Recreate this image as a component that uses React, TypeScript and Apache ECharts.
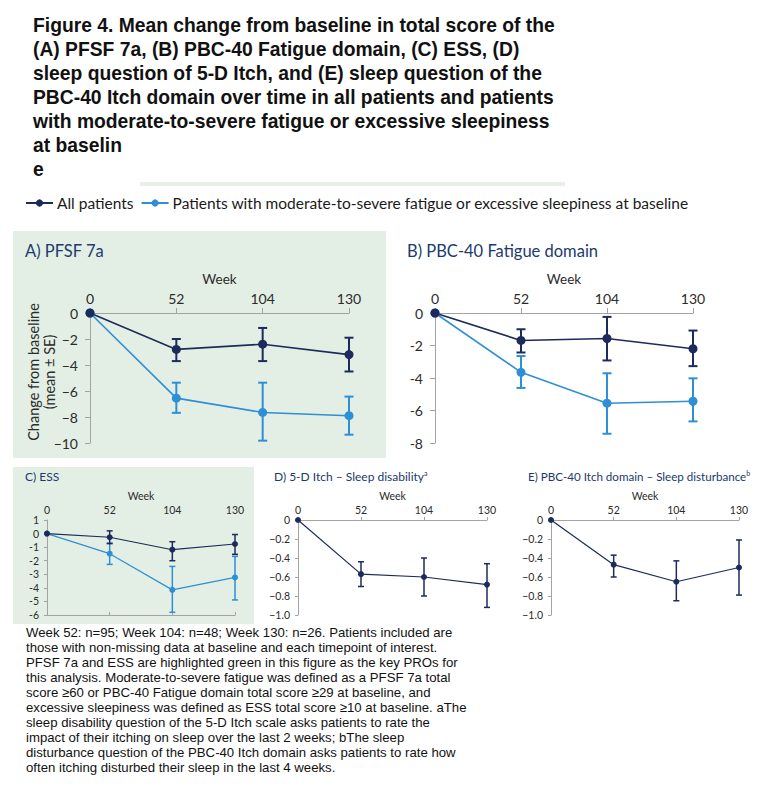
import React, { useEffect, useRef } from 'react';
import * as echarts from 'echarts';

// ---------- data ----------
const weeks = ['0', '52', '104', '130'];
const legendAll = 'All patients';
const legendFat = 'Patients with moderate-to-severe fatigue or excessive sleepiness at baseline';

// A) PFSF 7a
const pfsfAll = [0, -2.8, -2.4, -3.2];
const pfsfAllLo = [null, -3.7, -3.7, -4.5];
const pfsfAllHi = [null, -2.0, -1.15, -1.9];
const pfsfFat = [0, -6.55, -7.65, -7.9];
const pfsfFatLo = [null, -7.68, -9.82, -9.36];
const pfsfFatHi = [null, -5.36, -5.36, -6.43];

// B) PBC-40 Fatigue domain
const pbcAll = [0, -1.69, -1.57, -2.2];
const pbcAllLo = [null, -2.43, -2.92, -3.27];
const pbcAllHi = [null, -1.0, -0.24, -1.08];
const pbcFat = [0, -3.65, -5.55, -5.43];
const pbcFatLo = [null, -4.61, -7.43, -6.67];
const pbcFatHi = [null, -2.65, -3.71, -4.02];

// C) ESS
const essAll = [0, -0.27, -1.19, -0.77];
const essAllLo = [null, -0.74, -2.0, -1.53];
const essAllHi = [null, 0.2, -0.6, -0.07];
const essFat = [0, -1.48, -4.15, -3.23];
const essFatLo = [null, -2.27, -5.8, -4.89];
const essFatHi = [null, -0.7, -2.42, -1.68];

// D) 5-D Itch – Sleep disability
const itchAll = [0, -0.57, -0.6, -0.68];
const itchAllLo = [null, -0.7, -0.8, -0.92];
const itchAllHi = [null, -0.44, -0.4, -0.46];

// E) PBC-40 Itch domain – Sleep disturbance
const sleepAll = [0, -0.47, -0.65, -0.5];
const sleepAllLo = [null, -0.6, -0.85, -0.79];
const sleepAllHi = [null, -0.37, -0.43, -0.21];

const titleLines = [
  'Figure 4. Mean change from baseline in total score of the',
  '(A) PFSF 7a, (B) PBC-40 Fatigue domain, (C) ESS, (D)',
  'sleep question of 5-D Itch, and (E) sleep question of the',
  'PBC-40 Itch domain over time in all patients and patients',
  'with moderate-to-severe fatigue or excessive sleepiness',
  'at baselin',
  'e',
];

const footerLines = [
  'Week 52: n=95; Week 104: n=48; Week 130: n=26. Patients included are',
  'those with non-missing data at baseline and each timepoint of interest.',
  'PFSF 7a and ESS are highlighted green in this figure as the key PROs for',
  'this analysis. Moderate-to-severe fatigue was defined as a PFSF 7a total',
  'score \u226560 or PBC-40 Fatigue domain total score \u226529 at baseline, and',
  'excessive sleepiness was defined as ESS total score \u226510 at baseline. aThe',
  'sleep disability question of the 5-D Itch scale asks patients to rate the',
  'impact of their itching on sleep over the last 2 weeks; bThe sleep',
  'disturbance question of the PBC-40 Itch domain asks patients to rate how',
  'often itching disturbed their sleep in the last 4 weeks.',
];

// ---------- styling ----------
const NAVY = '#1c2b5c';
const BLUE = '#2e8fd6';
const AXIS = '#a3a3a3';
const LABEL = '#2b2b2b';
const PANEL_TITLE = '#213a6c';
const GREEN = '#e3efe4';
const FONT = 'Lato, "Open Sans", sans-serif';
const SANS = '"Liberation Sans", Arial, sans-serif';

const errData = (lo: (number | null)[], hi: (number | null)[]) =>
  lo.map((l, i) => (l == null ? null : [i, l, hi[i] as number])).filter((d) => d != null);

const errRender = (color: string, cap: number, lw: number) => (params: any, api: any) => {
  const i = api.value(0);
  const lo = api.coord([i, api.value(1)]);
  const hi = api.coord([i, api.value(2)]);
  const x = lo[0];
  const st = { stroke: color, lineWidth: lw };
  return {
    type: 'group',
    children: [
      { type: 'line', shape: { x1: x, y1: lo[1], x2: x, y2: hi[1] }, style: st },
      { type: 'line', shape: { x1: x - cap, y1: lo[1], x2: x + cap, y2: lo[1] }, style: st },
      { type: 'line', shape: { x1: x - cap, y1: hi[1], x2: x + cap, y2: hi[1] }, style: st },
    ],
  };
};

const minusFmt = (dash: string, dec: number) => (v: number) => {
  if (Math.abs(v) < 1e-9) return '0';
  const s = dec > 0 ? Math.abs(v).toFixed(dec) : String(Math.round(Math.abs(v)));
  return v < 0 ? dash + s : s;
};

function buildOption() {
  const grids = [
    { left: 90, top: 313, width: 259, height: 130 },
    { left: 435, top: 313, width: 258, height: 130 },
    { left: 47, top: 520, width: 188, height: 95 },
    { left: 298, top: 520, width: 189, height: 95 },
    { left: 551, top: 520, width: 188, height: 95 },
  ].map((g) => ({ ...g, containLabel: false, outerBoundsMode: 'none' }));

  const bigX = (gridIndex: number) => ({
    type: 'category',
    gridIndex,
    data: weeks,
    position: 'top',
    boundaryGap: false,
    axisLine: { show: true, onZero: false, lineStyle: { color: AXIS, width: 1 } },
    axisTick: { show: true, length: 5, lineStyle: { color: AXIS } },
    axisLabel: { margin: 8, fontSize: 14, fontFamily: FONT, color: LABEL },
    name: 'Week',
    nameLocation: 'middle',
    nameGap: 27,
    nameTextStyle: { fontSize: 13.5, fontFamily: FONT, color: LABEL },
  });
  const smallX = (gridIndex: number) => ({
    type: 'category',
    gridIndex,
    data: weeks,
    position: 'top',
    boundaryGap: false,
    axisLine: { show: true, onZero: false, lineStyle: { color: AXIS, width: 1 } },
    axisTick: { show: true, length: 3, lineStyle: { color: AXIS } },
    axisLabel: { margin: 5, fontSize: 10.5, fontFamily: FONT, color: LABEL },
    name: 'Week',
    nameLocation: 'middle',
    nameGap: 19,
    nameTextStyle: { fontSize: 10.5, fontFamily: FONT, color: LABEL },
  });

  const xAxis: any[] = [
    bigX(0),
    bigX(1),
    { ...smallX(2), axisLine: { show: false }, axisTick: { show: false } },
    {
      type: 'category',
      gridIndex: 2,
      data: weeks,
      position: 'bottom',
      boundaryGap: false,
      axisLine: { show: true, onZero: true, lineStyle: { color: AXIS, width: 1 } },
      axisTick: { show: true, inside: true, length: 3, lineStyle: { color: AXIS } },
      axisLabel: { show: false },
    },
    smallX(3),
    smallX(4),
  ];

  const yBase = (gridIndex: number, min: number, max: number, interval: number, fmt: any, big: boolean) => ({
    type: 'value',
    gridIndex,
    min,
    max,
    interval,
    axisLine: { show: true, lineStyle: { color: AXIS, width: 1 } },
    axisTick: { show: true, length: big ? 5 : 3, lineStyle: { color: AXIS } },
    splitLine: { show: false },
    axisLabel: {
      margin: big ? 12 : 8,
      fontSize: big ? 14 : 10.5,
      fontFamily: FONT,
      color: LABEL,
      formatter: fmt,
    },
  });

  const yAxis: any[] = [
    yBase(0, -10, 0, 2, minusFmt('\u2212', 0), true),
    yBase(1, -8, 0, 2, minusFmt('-', 0), true),
    yBase(2, -6, 1, 1, minusFmt('-', 0), false),
    yBase(3, -1, 0, 0.2, minusFmt('\u2212', 1), false),
    yBase(4, -1, 0, 0.2, minusFmt('\u2212', 1), false),
  ];

  const lineS = (name: string, data: number[], color: string, xi: number, yi: number, size: number, lw: number) => ({
    type: 'line',
    name,
    xAxisIndex: xi,
    yAxisIndex: yi,
    data,
    symbol: 'circle',
    symbolSize: size,
    lineStyle: { color, width: lw },
    itemStyle: { color },
    z: 4,
    silent: true,
  });
  const errS = (lo: any[], hi: any[], color: string, xi: number, yi: number, cap: number, lw: number) => ({
    type: 'custom',
    xAxisIndex: xi,
    yAxisIndex: yi,
    data: errData(lo, hi),
    encode: { x: 0, y: [1, 2] },
    renderItem: errRender(color, cap, lw),
    z: 3,
    silent: true,
  });

  const series: any[] = [
    // A
    errS(pfsfFatLo, pfsfFatHi, BLUE, 0, 0, 4.5, 2),
    lineS(legendFat, pfsfFat, BLUE, 0, 0, 9, 1.6),
    errS(pfsfAllLo, pfsfAllHi, NAVY, 0, 0, 4.5, 2),
    lineS(legendAll, pfsfAll, NAVY, 0, 0, 9, 1.6),
    // B
    errS(pbcFatLo, pbcFatHi, BLUE, 1, 1, 4.5, 2),
    lineS(legendFat, pbcFat, BLUE, 1, 1, 9, 1.6),
    errS(pbcAllLo, pbcAllHi, NAVY, 1, 1, 4.5, 2),
    lineS(legendAll, pbcAll, NAVY, 1, 1, 9, 1.6),
    // C
    errS(essFatLo, essFatHi, BLUE, 2, 2, 3, 1.5),
    lineS(legendFat, essFat, BLUE, 2, 2, 6, 1.2),
    errS(essAllLo, essAllHi, NAVY, 2, 2, 3, 1.5),
    lineS(legendAll, essAll, NAVY, 2, 2, 6, 1.2),
    // D
    errS(itchAllLo, itchAllHi, NAVY, 4, 3, 3, 1.5),
    lineS(legendAll, itchAll, NAVY, 4, 3, 6, 1.2),
    // E
    errS(sleepAllLo, sleepAllHi, NAVY, 5, 4, 3, 1.5),
    lineS(legendAll, sleepAll, NAVY, 5, 4, 6, 1.2),
  ];

  const txt = (x: number, y: number, text: string, style: any, extra: any = {}) => ({
    type: 'text',
    x,
    y,
    silent: true,
    ...extra,
    style: { text, ...style },
  });

  const graphic: any[] = [
    { type: 'rect', z: -10, silent: true, shape: { x: 13, y: 231, width: 373, height: 227 }, style: { fill: GREEN } },
    { type: 'rect', z: -10, silent: true, shape: { x: 13, y: 467, width: 241, height: 157 }, style: { fill: GREEN } },
    { type: 'rect', z: -10, silent: true, shape: { x: 140, y: 182, width: 425, height: 4 }, style: { fill: '#e8f1e8' } },
    txt(33, 13, titleLines.join('\n'), {
      fontFamily: SANS,
      fontSize: 19.3,
      fontWeight: 'bold',
      lineHeight: 24,
      fill: '#111',
      verticalAlign: 'top',
    }),
    txt(26, 624.5, footerLines.join('\n'), {
      fontFamily: SANS,
      fontSize: 13.2,
      lineHeight: 15,
      fill: '#111',
      verticalAlign: 'top',
    }),
    txt(25, 251, 'A) PFSF 7a', { fontFamily: FONT, fontSize: 16.5, fill: PANEL_TITLE, verticalAlign: 'middle' }),
    txt(407, 251, 'B) PBC-40 Fatigue domain', { fontFamily: FONT, fontSize: 16.5, fill: PANEL_TITLE, verticalAlign: 'middle' }),
    txt(25, 476, 'C) ESS', { fontFamily: FONT, fontSize: 12, fill: PANEL_TITLE, verticalAlign: 'middle' }),
    txt(274, 476, 'D) 5-D Itch \u2013 Sleep disability{s|a}', {
      fontFamily: FONT,
      fontSize: 12,
      fill: PANEL_TITLE,
      verticalAlign: 'middle',
      rich: { s: { fontSize: 7, fontFamily: FONT, fill: PANEL_TITLE, verticalAlign: 'top', padding: [0, 0, 6, 0] } },
    }),
    txt(528, 476, 'E) PBC-40 Itch domain \u2013 Sleep disturbance{s|b}', {
      fontFamily: FONT,
      fontSize: 11.6,
      fill: PANEL_TITLE,
      verticalAlign: 'middle',
      rich: { s: { fontSize: 7, fontFamily: FONT, fill: PANEL_TITLE, verticalAlign: 'top', padding: [0, 0, 6, 0] } },
    }),
    txt(41, 372, 'Change from baseline\n(mean \u00b1 SE)', {
      fontFamily: FONT,
      fontSize: 14.5,
      lineHeight: 16,
      fill: LABEL,
      align: 'center',
      verticalAlign: 'middle',
    }, { rotation: Math.PI / 2 }),
  ];

  return {
    animation: false,
    backgroundColor: '#ffffff',
    grid: grids,
    xAxis,
    yAxis,
    series,
    graphic,
    legend: {
      data: [legendAll, legendFat],
      left: 25,
      top: 194,
      padding: 0,
      itemWidth: 27,
      itemHeight: 9,
      itemGap: 7,
      selectedMode: false,
      textStyle: { fontFamily: FONT, fontSize: 15.5, color: '#1a1a1a', lineHeight: 18, padding: [0, 0, 0, -1] },
    },
  };
}

export default function App() {
  const ref = useRef<HTMLDivElement>(null);
  useEffect(() => {
    if (!ref.current) return;
    const chart = echarts.init(ref.current, undefined, { renderer: 'svg' });
    chart.setOption(buildOption() as any);
    return () => chart.dispose();
  }, []);
  return (
    <div
      ref={ref}
      style={{ position: 'absolute', left: 0, top: 0, width: 769, height: 785, background: '#ffffff' }}
    />
  );
}
